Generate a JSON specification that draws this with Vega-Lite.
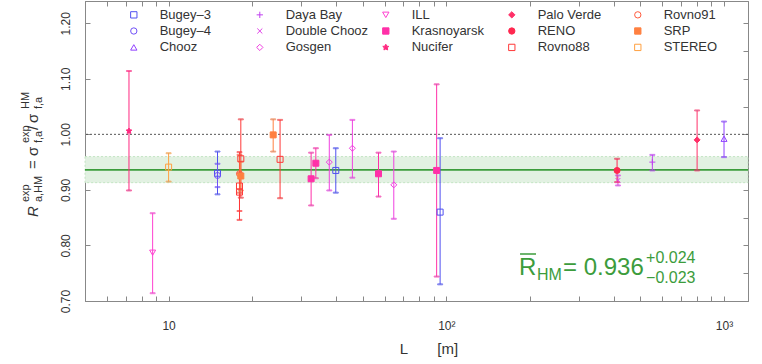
{
  "$schema": "https://vega.github.io/schema/vega-lite/v6.json",
  "width": 663,
  "height": 300,
  "autosize": "none",
  "padding": {"left": 85, "top": 1, "right": 14, "bottom": 63},
  "config": {
    "font": "Liberation Sans",
    "view": {"stroke": "#888", "strokeWidth": 1},
    "axis": {"domainColor": "#888", "tickColor": "#888", "labelColor": "#333", "titleColor": "#333", "grid": false, "labelFont": "Liberation Sans", "titleFont": "Liberation Sans"}
  },
  "datasets": {
    "pts": [
      {"e": "Bugey–3", "L": 15, "R": 0.930, "lo": 0.892, "hi": 0.969},
      {"e": "Bugey–4", "L": 15, "R": 0.926, "lo": 0.905, "hi": 0.947},
      {"e": "Bugey–3", "L": 40, "R": 0.935, "lo": 0.895, "hi": 0.975},
      {"e": "Bugey–3", "L": 95, "R": 0.860, "lo": 0.730, "hi": 0.993},
      {"e": "Chooz", "L": 1000, "R": 0.992, "lo": 0.959, "hi": 1.023},
      {"e": "Daya Bay", "L": 552, "R": 0.950, "lo": 0.935, "hi": 0.963},
      {"e": "Double Chooz", "L": 415, "R": 0.917, "lo": 0.908, "hi": 0.926},
      {"e": "Gosgen", "L": 37.9, "R": 0.950, "lo": 0.899, "hi": 0.999},
      {"e": "Gosgen", "L": 45.9, "R": 0.975, "lo": 0.922, "hi": 1.026},
      {"e": "Gosgen", "L": 64.7, "R": 0.909, "lo": 0.848, "hi": 0.969},
      {"e": "ILL", "L": 8.76, "R": 0.787, "lo": 0.714, "hi": 0.858},
      {"e": "Krasnoyarsk", "L": 32.6, "R": 0.920, "lo": 0.872, "hi": 0.967},
      {"e": "Krasnoyarsk", "L": 33.9, "R": 0.948, "lo": 0.921, "hi": 0.975},
      {"e": "Krasnoyarsk", "L": 57.0, "R": 0.929, "lo": 0.888, "hi": 0.967},
      {"e": "Krasnoyarsk", "L": 92.3, "R": 0.935, "lo": 0.744, "hi": 1.09},
      {"e": "Nucifer", "L": 7.2, "R": 1.006, "lo": 0.899, "hi": 1.114},
      {"e": "Palo Verde", "L": 800, "R": 0.990, "lo": 0.935, "hi": 1.043},
      {"e": "RENO", "L": 412, "R": 0.935, "lo": 0.914, "hi": 0.956},
      {"e": "Rovno88", "L": 18.2, "R": 0.956, "lo": 0.886, "hi": 1.027},
      {"e": "Rovno88", "L": 18.0, "R": 0.907, "lo": 0.846, "hi": 0.968},
      {"e": "Rovno88", "L": 18.0, "R": 0.896, "lo": 0.862, "hi": 0.930},
      {"e": "Rovno88", "L": 25.2, "R": 0.955, "lo": 0.885, "hi": 1.026},
      {"e": "Rovno91", "L": 18.0, "R": 0.929, "lo": 0.895, "hi": 0.963},
      {"e": "SRP", "L": 18.2, "R": 0.925, "lo": 0.899, "hi": 0.951},
      {"e": "SRP", "L": 23.8, "R": 0.999, "lo": 0.969, "hi": 1.027},
      {"e": "STEREO", "L": 10.0, "R": 0.941, "lo": 0.915, "hi": 0.966}
    ]
  },
  "data": {"name": "pts"},
  "layer": [
    {
      "layer": [
        {
          "data": {"values": [{}]},
          "mark": {"type": "rect", "fill": "#e2f1e2", "stroke": "#b9dfb9", "strokeWidth": 0.8, "strokeDash": [2, 2]},
          "encoding": {
            "y": {"datum": 0.913, "type": "quantitative", "scale": {"domain": [0.7, 1.24], "zero": false, "nice": false}, "axis": {"orient": "left", "values": [0.7, 0.75, 0.8, 0.85, 0.9, 0.95, 1.0, 1.05, 1.1, 1.15, 1.2], "labelExpr": "round(datum.value*100) % 10 == 0 ? format(datum.value, '.2f') : ''", "labelAngle": 270, "tickSize": -5, "labelPadding": 18, "labelFontSize": 12, "title": null, "domain": true}},
            "y2": {"datum": 0.960}
          }
        },
        {
          "data": {"values": [{}]},
          "mark": {"type": "rule", "color": "#555", "strokeWidth": 1, "strokeDash": [2, 2]},
          "encoding": {"y": {"datum": 1.0, "type": "quantitative", "scale": {"domain": [0.7, 1.24], "zero": false, "nice": false}}}
        },
        {
          "data": {"values": [{}]},
          "mark": {"type": "rule", "color": "#3c9c3c", "strokeWidth": 1.6},
          "encoding": {"y": {"datum": 0.936, "type": "quantitative", "scale": {"domain": [0.7, 1.24], "zero": false, "nice": false}}}
        },
        {
          "mark": {"type": "rule", "strokeWidth": 1},
          "encoding": {
            "x": {"field": "L", "type": "quantitative", "scale": {"type": "log", "domain": [5, 1220], "nice": false},
              "axis": {"orient": "bottom", "values": [5, 6, 7, 8, 9, 10, 20, 30, 40, 50, 60, 70, 80, 90, 100, 200, 300, 400, 500, 600, 700, 800, 900, 1000], "labelExpr": "datum.value == 10 ? '10' : datum.value == 100 ? '10²' : datum.value == 1000 ? '10³' : ''", "tickSize": -5, "labelPadding": 24, "labelFontSize": 12, "labelFlush": false, "labelOverlap": false, "title": "L\u00a0\u00a0\u00a0\u00a0\u00a0\u00a0\u00a0[m]", "titleFontSize": 15, "titleFontWeight": "normal", "titlePadding": 10, "titleX": 343.5}},
            "y": {"field": "lo", "type": "quantitative", "scale": {"domain": [0.7, 1.24], "zero": false, "nice": false}},
            "y2": {"field": "hi"},
            "stroke": {"field": "e", "type": "nominal", "legend": null, "scale": {"domain": ["STEREO", "SRP", "Rovno91", "Rovno88", "RENO", "Palo Verde", "Nucifer", "Krasnoyarsk", "ILL", "Gosgen", "Double Chooz", "Daya Bay", "Chooz", "Bugey–4", "Bugey–3"], "range": ["#ffa040", "#ff8040", "#ff5a3c", "#ff3838", "#ff2850", "#ff3068", "#ff2880", "#ff30a8", "#ff40d0", "#f040e0", "#e040e8", "#c040f0", "#9040ff", "#7050f8", "#5050f0"]}}
          }
        },
        {
          "mark": {"type": "tick", "orient": "horizontal", "size": 5, "thickness": 1},
          "encoding": {
            "x": {"field": "L", "type": "quantitative", "scale": {"type": "log", "domain": [5, 1220], "nice": false}},
            "y": {"field": "lo", "type": "quantitative", "scale": {"domain": [0.7, 1.24], "zero": false, "nice": false}},
            "stroke": {"field": "e", "type": "nominal", "legend": null, "scale": {"domain": ["STEREO", "SRP", "Rovno91", "Rovno88", "RENO", "Palo Verde", "Nucifer", "Krasnoyarsk", "ILL", "Gosgen", "Double Chooz", "Daya Bay", "Chooz", "Bugey–4", "Bugey–3"], "range": ["#ffa040", "#ff8040", "#ff5a3c", "#ff3838", "#ff2850", "#ff3068", "#ff2880", "#ff30a8", "#ff40d0", "#f040e0", "#e040e8", "#c040f0", "#9040ff", "#7050f8", "#5050f0"]}}
          }
        },
        {
          "mark": {"type": "tick", "orient": "horizontal", "size": 5, "thickness": 1},
          "encoding": {
            "x": {"field": "L", "type": "quantitative", "scale": {"type": "log", "domain": [5, 1220], "nice": false}},
            "y": {"field": "hi", "type": "quantitative", "scale": {"domain": [0.7, 1.24], "zero": false, "nice": false}},
            "stroke": {"field": "e", "type": "nominal", "legend": null, "scale": {"domain": ["STEREO", "SRP", "Rovno91", "Rovno88", "RENO", "Palo Verde", "Nucifer", "Krasnoyarsk", "ILL", "Gosgen", "Double Chooz", "Daya Bay", "Chooz", "Bugey–4", "Bugey–3"], "range": ["#ffa040", "#ff8040", "#ff5a3c", "#ff3838", "#ff2850", "#ff3068", "#ff2880", "#ff30a8", "#ff40d0", "#f040e0", "#e040e8", "#c040f0", "#9040ff", "#7050f8", "#5050f0"]}}
          }
        },
        {
          "mark": {"type": "point", "filled": false, "size": 36, "strokeWidth": 1, "opacity": 1},
          "encoding": {
            "x": {"field": "L", "type": "quantitative", "scale": {"type": "log", "domain": [5, 1220], "nice": false}},
            "y": {"field": "R", "type": "quantitative", "scale": {"domain": [0.7, 1.24], "zero": false, "nice": false}},
            "color": {"field": "e", "type": "nominal",
              "scale": {"domain": ["Bugey–3", "Bugey–4", "Chooz", "Daya Bay", "Double Chooz", "Gosgen", "ILL", "Krasnoyarsk", "Nucifer", "Palo Verde", "RENO", "Rovno88", "Rovno91", "SRP", "STEREO"], "range": ["#5050f0", "#7050f8", "#9040ff", "#c040f0", "#e040e8", "#f040e0", "#ff40d0", "#ff30a8", "#ff2880", "#ff3068", "#ff2850", "#ff3838", "#ff5a3c", "#ff8040", "#ffa040"]},
              "legend": {"orient": "none", "legendX": 42.3, "legendY": 7.1, "columns": 5, "gridAlign": "all", "columnPadding": 11, "rowPadding": 2.4, "symbolSize": 40, "labelFontSize": 13, "labelOffset": 19.4, "labelColor": "#333", "labelFont": "Liberation Sans", "title": null, "padding": 0, "symbolStrokeWidth": 1}},
            "fill": {"field": "e", "type": "nominal",
              "scale": {"domain": ["Bugey–3", "Bugey–4", "Chooz", "Daya Bay", "Double Chooz", "Gosgen", "ILL", "Krasnoyarsk", "Nucifer", "Palo Verde", "RENO", "Rovno88", "Rovno91", "SRP", "STEREO"], "range": ["transparent", "transparent", "transparent", "transparent", "transparent", "transparent", "transparent", "#ff30a8", "#ff2880", "#ff3068", "#ff2850", "transparent", "transparent", "#ff8040", "transparent"]}},
            "shape": {"field": "e", "type": "nominal",
              "scale": {"domain": ["Bugey–3", "Bugey–4", "Chooz", "Daya Bay", "Double Chooz", "Gosgen", "ILL", "Krasnoyarsk", "Nucifer", "Palo Verde", "RENO", "Rovno88", "Rovno91", "SRP", "STEREO"], "range": ["square", "circle", "triangle-up", "M-1,0H1M0,-1V1", "M-0.8,-0.8L0.8,0.8M-0.8,0.8L0.8,-0.8", "diamond", "triangle-down", "square", "M0,-1L0.29,-0.4L0.95,-0.31L0.48,0.15L0.59,0.81L0,0.5L-0.59,0.81L-0.48,0.15L-0.95,-0.31L-0.29,-0.4Z", "diamond", "circle", "square", "circle", "square", "square"]}}
          }
        },
        {
          "data": {"values": [{}]},
          "mark": {"type": "rule", "color": "#3c9c3c", "strokeWidth": 1.5},
          "encoding": {
            "x": {"datum": 184.3, "type": "quantitative", "scale": {"type": "log", "domain": [5, 1220], "nice": false}},
            "x2": {"datum": 210.4},
            "y": {"datum": 0.7846, "type": "quantitative", "scale": {"domain": [0.7, 1.24], "zero": false, "nice": false}}
          }
        },
        {
          "data": {"values": [{}]},
          "mark": {"type": "text", "text": "R", "fontSize": 24, "align": "left", "baseline": "alphabetic", "color": "#3c9c3c"},
          "encoding": {
            "x": {"datum": 182.7, "type": "quantitative", "scale": {"type": "log", "domain": [5, 1220], "nice": false}},
            "y": {"datum": 0.7468, "type": "quantitative", "scale": {"domain": [0.7, 1.24], "zero": false, "nice": false}}
          }
        },
        {
          "data": {"values": [{}]},
          "mark": {"type": "text", "text": "HM", "fontSize": 16, "align": "left", "baseline": "alphabetic", "color": "#3c9c3c"},
          "encoding": {
            "x": {"datum": 212.2, "type": "quantitative", "scale": {"type": "log", "domain": [5, 1220], "nice": false}},
            "y": {"datum": 0.7378, "type": "quantitative", "scale": {"domain": [0.7, 1.24], "zero": false, "nice": false}}
          }
        },
        {
          "data": {"values": [{}]},
          "mark": {"type": "text", "text": "= 0.936", "fontSize": 24, "align": "left", "baseline": "alphabetic", "color": "#3c9c3c"},
          "encoding": {
            "x": {"datum": 263.2, "type": "quantitative", "scale": {"type": "log", "domain": [5, 1220], "nice": false}},
            "y": {"datum": 0.7468, "type": "quantitative", "scale": {"domain": [0.7, 1.24], "zero": false, "nice": false}}
          }
        },
        {
          "data": {"values": [{}]},
          "mark": {"type": "text", "text": "+0.024", "fontSize": 16, "align": "left", "baseline": "alphabetic", "color": "#3c9c3c"},
          "encoding": {
            "x": {"datum": 524, "type": "quantitative", "scale": {"type": "log", "domain": [5, 1220], "nice": false}},
            "y": {"datum": 0.7689, "type": "quantitative", "scale": {"domain": [0.7, 1.24], "zero": false, "nice": false}}
          }
        },
        {
          "data": {"values": [{}]},
          "mark": {"type": "text", "text": "−0.023", "fontSize": 16, "align": "left", "baseline": "alphabetic", "color": "#3c9c3c"},
          "encoding": {
            "x": {"datum": 524, "type": "quantitative", "scale": {"type": "log", "domain": [5, 1220], "nice": false}},
            "y": {"datum": 0.7329, "type": "quantitative", "scale": {"domain": [0.7, 1.24], "zero": false, "nice": false}}
          }
        },
        {
          "data": {"values": [{}]},
          "mark": {"type": "text", "text": "R", "fontSize": 15, "fontStyle": "italic", "angle": 270, "align": "left", "baseline": "alphabetic", "color": "#333"},
          "encoding": {
            "x": {"datum": 3.39, "type": "quantitative", "scale": {"type": "log", "domain": [5, 1220], "nice": false}},
            "y": {"datum": 0.8512, "type": "quantitative", "scale": {"domain": [0.7, 1.24], "zero": false, "nice": false}}
          }
        },
        {
          "data": {"values": [{}]},
          "mark": {"type": "text", "text": "a,HM", "fontSize": 11, "angle": 270, "align": "left", "baseline": "alphabetic", "color": "#333"},
          "encoding": {
            "x": {"datum": 3.5, "type": "quantitative", "scale": {"type": "log", "domain": [5, 1220], "nice": false}},
            "y": {"datum": 0.878, "type": "quantitative", "scale": {"domain": [0.7, 1.24], "zero": false, "nice": false}}
          }
        },
        {
          "data": {"values": [{}]},
          "mark": {"type": "text", "text": "exp", "fontSize": 11, "angle": 270, "align": "left", "baseline": "alphabetic", "color": "#333"},
          "encoding": {
            "x": {"datum": 3.14, "type": "quantitative", "scale": {"type": "log", "domain": [5, 1220], "nice": false}},
            "y": {"datum": 0.878, "type": "quantitative", "scale": {"domain": [0.7, 1.24], "zero": false, "nice": false}}
          }
        },
        {
          "data": {"values": [{}]},
          "mark": {"type": "text", "text": "=", "fontSize": 15, "angle": 270, "align": "left", "baseline": "alphabetic", "color": "#333"},
          "encoding": {
            "x": {"datum": 3.39, "type": "quantitative", "scale": {"type": "log", "domain": [5, 1220], "nice": false}},
            "y": {"datum": 0.9376, "type": "quantitative", "scale": {"domain": [0.7, 1.24], "zero": false, "nice": false}}
          }
        },
        {
          "data": {"values": [{}]},
          "mark": {"type": "text", "text": "σ", "fontSize": 15, "angle": 270, "align": "left", "baseline": "alphabetic", "color": "#333"},
          "encoding": {
            "x": {"datum": 3.39, "type": "quantitative", "scale": {"type": "log", "domain": [5, 1220], "nice": false}},
            "y": {"datum": 0.961, "type": "quantitative", "scale": {"domain": [0.7, 1.24], "zero": false, "nice": false}}
          }
        },
        {
          "data": {"values": [{}]},
          "mark": {"type": "text", "text": "exp", "fontSize": 11, "angle": 270, "align": "left", "baseline": "alphabetic", "color": "#333"},
          "encoding": {
            "x": {"datum": 3.14, "type": "quantitative", "scale": {"type": "log", "domain": [5, 1220], "nice": false}},
            "y": {"datum": 0.9844, "type": "quantitative", "scale": {"domain": [0.7, 1.24], "zero": false, "nice": false}}
          }
        },
        {
          "data": {"values": [{}]},
          "mark": {"type": "text", "text": "f,a", "fontSize": 11, "angle": 270, "align": "left", "baseline": "alphabetic", "color": "#333"},
          "encoding": {
            "x": {"datum": 3.5, "type": "quantitative", "scale": {"type": "log", "domain": [5, 1220], "nice": false}},
            "y": {"datum": 0.9844, "type": "quantitative", "scale": {"domain": [0.7, 1.24], "zero": false, "nice": false}}
          }
        },
        {
          "data": {"values": [{}]},
          "mark": {"type": "text", "text": "/", "fontSize": 15, "angle": 270, "align": "left", "baseline": "alphabetic", "color": "#333"},
          "encoding": {
            "x": {"datum": 3.39, "type": "quantitative", "scale": {"type": "log", "domain": [5, 1220], "nice": false}},
            "y": {"datum": 1.0078, "type": "quantitative", "scale": {"domain": [0.7, 1.24], "zero": false, "nice": false}}
          }
        },
        {
          "data": {"values": [{}]},
          "mark": {"type": "text", "text": "σ", "fontSize": 15, "angle": 270, "align": "left", "baseline": "alphabetic", "color": "#333"},
          "encoding": {
            "x": {"datum": 3.39, "type": "quantitative", "scale": {"type": "log", "domain": [5, 1220], "nice": false}},
            "y": {"datum": 1.0204, "type": "quantitative", "scale": {"domain": [0.7, 1.24], "zero": false, "nice": false}}
          }
        },
        {
          "data": {"values": [{}]},
          "mark": {"type": "text", "text": "HM", "fontSize": 11, "angle": 270, "align": "left", "baseline": "alphabetic", "color": "#333"},
          "encoding": {
            "x": {"datum": 3.14, "type": "quantitative", "scale": {"type": "log", "domain": [5, 1220], "nice": false}},
            "y": {"datum": 1.0456, "type": "quantitative", "scale": {"domain": [0.7, 1.24], "zero": false, "nice": false}}
          }
        },
        {
          "data": {"values": [{}]},
          "mark": {"type": "text", "text": "f,a", "fontSize": 11, "angle": 270, "align": "left", "baseline": "alphabetic", "color": "#333"},
          "encoding": {
            "x": {"datum": 3.5, "type": "quantitative", "scale": {"type": "log", "domain": [5, 1220], "nice": false}},
            "y": {"datum": 1.0456, "type": "quantitative", "scale": {"domain": [0.7, 1.24], "zero": false, "nice": false}}
          }
        }
      ]
    },
    {
      "mark": {"type": "point", "opacity": 0},
      "encoding": {
        "x": {"field": "L", "type": "quantitative", "scale": {"type": "log", "domain": [5, 1220], "nice": false},
          "axis": {"orient": "top", "values": [5, 6, 7, 8, 9, 10, 20, 30, 40, 50, 60, 70, 80, 90, 100, 200, 300, 400, 500, 600, 700, 800, 900, 1000], "labels": false, "tickSize": -5, "title": null}},
        "y": {"field": "R", "type": "quantitative", "scale": {"domain": [0.7, 1.24], "zero": false, "nice": false},
          "axis": {"orient": "right", "values": [0.7, 0.75, 0.8, 0.85, 0.9, 0.95, 1.0, 1.05, 1.1, 1.15, 1.2], "labels": false, "tickSize": -5, "title": null}}
      }
    }
  ],
  "resolve": {"axis": {"x": "independent", "y": "independent"}}
}
